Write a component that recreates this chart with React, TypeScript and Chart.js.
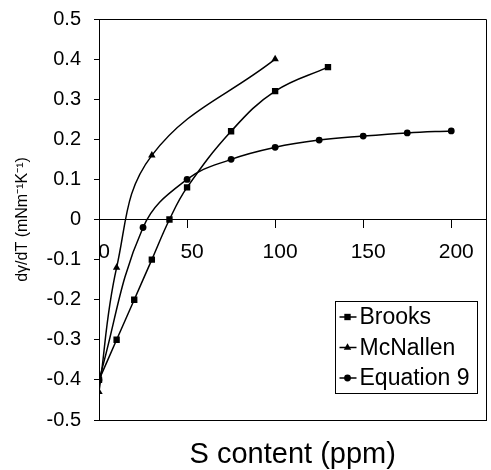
import { useEffect, useRef } from 'react';
import { Chart, registerables } from 'chart.js';

Chart.register(...registerables);

// ---- data ----
const seriesLabels = ['Brooks', 'McNallen', 'Equation 9'];
const brooksX = [0, 10, 20, 30, 40, 50, 75, 100, 130];
const brooksY = [-0.4, -0.3, -0.2, -0.1, 0, 0.08, 0.22, 0.32, 0.38];
const mcnallenX = [0, 10, 30, 100];
const mcnallenY = [-0.43, -0.12, 0.16, 0.4];
const eq9X = [0, 25, 50, 75, 100, 125, 150, 175, 200];
const eq9Y = [-0.4, -0.02, 0.1, 0.15, 0.18, 0.198, 0.208, 0.216, 0.221];
const xTickValues = [0, 50, 100, 150, 200];
const yTickValues = [-0.5, -0.4, -0.3, -0.2, -0.1, 0, 0.1, 0.2, 0.3, 0.4, 0.5];
const xTitle = 'S content (ppm)';
const yTitle = 'dγ/dT (mNm⁻¹K⁻¹)';
const xRange = [0, 220];
const yRange = [-0.5, 0.5];

const FONT = '"Liberation Sans", Arial, Helvetica, sans-serif';

const toPoints = (xs: number[], ys: number[]) => xs.map((x, i) => ({ x, y: ys[i] }));

const frame = {
  id: 'frame',
  afterDatasetsDraw(chart: any) {
    const { ctx, chartArea } = chart;
    ctx.save();
    ctx.strokeStyle = '#000';
    ctx.lineWidth = 1;
    ctx.beginPath();
    const l = Math.round(chartArea.left) + 0.5;
    const t = Math.round(chartArea.top) + 0.5;
    const r = Math.round(chartArea.right) - 0.5;
    const b = Math.round(chartArea.bottom) + 0.5;
    ctx.moveTo(l, t);
    ctx.lineTo(r, t);
    ctx.lineTo(r, b);
    ctx.stroke();
    ctx.restore();
  },
};

const drawMarker = (ctx: CanvasRenderingContext2D, style: string, x: number, y: number, r: number) => {
  ctx.beginPath();
  if (style === 'rect') {
    const s = r * Math.SQRT1_2;
    ctx.rect(x - s, y - s, 2 * s, 2 * s);
  } else if (style === 'triangle') {
    ctx.moveTo(x, y - r);
    ctx.lineTo(x + r * 0.866, y + r * 0.5);
    ctx.lineTo(x - r * 0.866, y + r * 0.5);
    ctx.closePath();
  } else {
    ctx.arc(x, y, r, 0, Math.PI * 2);
  }
  ctx.fill();
};

const boxLegend = {
  id: 'boxLegend',
  afterDraw(chart: any, _args: any, opts: any) {
    const { ctx, chartArea } = chart;
    const datasets = chart.data.datasets;
    const right = chartArea.right - 10;
    const bottom = chartArea.bottom - 27;
    const width = opts.width;
    const height = opts.height;
    const rowH = opts.rowHeight;
    const left = right - width;
    const top = bottom - height;
    ctx.save();
    ctx.strokeStyle = '#000';
    ctx.lineWidth = 1;
    ctx.strokeRect(Math.round(left) + 0.5, Math.round(top) + 0.5, Math.round(width), Math.round(height));
    ctx.font = `${opts.fontSize}px ${FONT}`;
    ctx.textBaseline = 'middle';
    ctx.textAlign = 'left';
    datasets.forEach((ds: any, i: number) => {
      const cy = top + 16 + i * rowH;
      const mx = left + 13;
      ctx.strokeStyle = '#000';
      ctx.lineWidth = 1.5;
      ctx.beginPath();
      ctx.moveTo(left + 5, cy);
      ctx.lineTo(left + 22, cy);
      ctx.stroke();
      ctx.fillStyle = '#000';
      drawMarker(ctx, ds.pointStyle, mx, cy, ds.pointRadius);
      ctx.fillText(ds.label, left + 25, cy + 1);
    });
    ctx.restore();
  },
};

export default function App() {
  const ref = useRef<HTMLCanvasElement>(null);

  useEffect(() => {
    if (!ref.current) return;
    Chart.defaults.font.family = FONT;
    Chart.defaults.color = '#000';
    const common = {
      borderColor: '#000',
      backgroundColor: '#000',
      pointBackgroundColor: '#000',
      pointBorderColor: '#000',
      borderWidth: 1.5,
      pointBorderWidth: 0,
      tension: 0.4,
      fill: false,
    };
    const chart = new Chart(ref.current, {
      type: 'line',
      data: {
        datasets: [
          { ...common, label: seriesLabels[0], data: toPoints(brooksX, brooksY), pointStyle: 'rect', pointRadius: 4.5 },
          { ...common, label: seriesLabels[1], data: toPoints(mcnallenX, mcnallenY), pointStyle: 'triangle', pointRadius: 4.3 },
          { ...common, label: seriesLabels[2], data: toPoints(eq9X, eq9Y), pointStyle: 'circle', pointRadius: 3.4 },
        ],
      },
      plugins: [frame, boxLegend],
      options: {
        animation: false,
        responsive: false,
        devicePixelRatio: 1,
        layout: { padding: { top: 19, right: 1, left: 0, bottom: 0 } },
        plugins: {
          legend: { display: false },
          tooltip: { enabled: false },
          boxLegend: { width: 142, height: 92, rowHeight: 30.5, fontSize: 23 },
        } as any,
        scales: {
          x: {
            type: 'linear',
            position: 'bottom',
            min: xRange[0],
            max: xRange[1],
            ticks: { display: false },
            grid: { display: false, drawTicks: false },
            border: { display: true, color: '#000', width: 1 },
            title: { display: true, text: xTitle, color: '#000', font: { size: 29, family: FONT, lineHeight: 1.05 }, padding: { top: 0, bottom: 0 } },
            afterFit: (s: any) => { s.height = 50; },
          },
          xZero: {
            type: 'linear',
            position: { y: 0 },
            min: xRange[0],
            max: xRange[1],
            afterBuildTicks: (s: any) => { s.ticks = xTickValues.map((v) => ({ value: v })); },
            ticks: { color: '#000', font: { size: 21, family: FONT }, padding: 12, labelOffset: 5, maxRotation: 0, autoSkip: false },
            grid: { display: true, drawOnChartArea: false, drawTicks: true, tickLength: 8, color: '#000', lineWidth: 1 },
            border: { display: true, color: '#000', width: 1 },
          },
          y: {
            type: 'linear',
            position: 'left',
            min: yRange[0],
            max: yRange[1],
            afterBuildTicks: (s: any) => { s.ticks = yTickValues.map((v) => ({ value: v })); },
            ticks: {
              color: '#000',
              font: { size: 20, family: FONT },
              padding: 13,
              autoSkip: false,
              callback: (v: any) => String(Number(Number(v).toFixed(1))),
            },
            grid: { display: true, drawOnChartArea: false, drawTicks: true, tickLength: 5, color: '#000', lineWidth: 1 },
            border: { display: true, color: '#000', width: 1 },
            title: { display: true, text: yTitle, color: '#000', font: { size: 16, family: FONT }, padding: { top: 13, bottom: 0 } },
            afterFit: (s: any) => {
              s.width = 99;
              s.paddingTop = 8;
              s.paddingBottom = 8;
            },
          },
        } as any,
      },
    });
    return () => chart.destroy();
  }, []);

  return (
    <div style={{ position: 'absolute', left: 0, top: 0, width: 491, height: 470, background: '#fff' }}>
      <canvas ref={ref} width={491} height={470} style={{ display: 'block' }} />
    </div>
  );
}
